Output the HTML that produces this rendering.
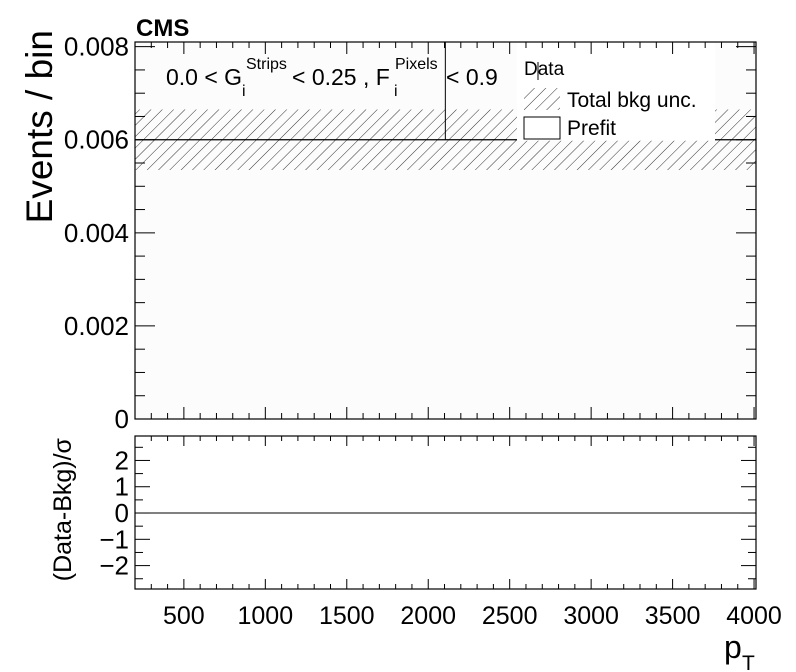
<!DOCTYPE html>
<html><head><meta charset="utf-8"><style>
body{margin:0;background:#fff;}
svg{display:block;font-family:"Liberation Sans",Arial,sans-serif;}
</style></head><body>
<svg id="c" width="796" height="672"></svg>
<script>
const xTicks=[500,1000,1500,2000,2500,3000,3500,4000];
const mainYTicks=[0,0.002,0.004,0.006,0.008];
const mainYLabels=["0","0.002","0.004","0.006","0.008"];
const ratioYTicks=[-2,-1,0,1,2];
const ratioYLabels=["\u22122","\u22121","0","1","2"];
const bkgValue=[0.006];
const bkgUncUp=[0.00665];
const bkgUncDown=[0.00535];
const dataX=[2105];
const dataY=[0.006];
const ratioValue=[0];

const NS="http://www.w3.org/2000/svg";
const svg=document.getElementById('c');
const X0=135,X1=756,xmin=200,xmax=4012;
const sx=v=>X0+(v-xmin)/(xmax-xmin)*(X1-X0);
const MT=42,MB=419,ymin=0,ymax=0.0081;
const sy=v=>MB-(v-ymin)/(ymax-ymin)*(MB-MT);
const RT=436,RB=589,rmin=-2.89,rmax=2.93;
const sr=v=>RB-(v-rmin)/(rmax-rmin)*(RB-RT);
function el(t,a,p){const e=document.createElementNS(NS,t);for(const k in a)e.setAttribute(k,a[k]);(p||svg).appendChild(e);return e;}
function txt(s,a,p){const e=el('text',a,p);e.textContent=s;return e;}

const defs=el('defs',{});
const pat=el('pattern',{id:'hatch',width:8,height:8,patternUnits:'userSpaceOnUse',patternTransform:'rotate(45)'},defs);
el('line',{x1:0,y1:0,x2:0,y2:8,stroke:'#000','stroke-width':0.8},pat);

const mf=el('rect',{x:X0,y:MT,width:X1-X0,height:MB-MT,fill:'#fcfcfc',stroke:'none'});


const band=el('rect',{x:X0,y:sy(bkgUncUp[0]),width:X1-X0,height:sy(bkgUncDown[0])-sy(bkgUncUp[0]),fill:'url(#hatch)'});


const bl=el('line',{x1:X0,x2:X1,y1:sy(bkgValue[0]),y2:sy(bkgValue[0]),stroke:'#000','stroke-width':1.2});


const de=el('line',{x1:sx(dataX[0]),x2:sx(dataX[0]),y1:MT,y2:sy(dataY[0]),stroke:'#000','stroke-width':1});



const lg=el('g',{});


el('rect',{x:517,y:MT+1,width:198,height:sy(bkgValue[0])-MT,fill:'#fff'},lg);
txt('Data',{x:524,y:75,'font-size':19},lg);
el('line',{x1:538,x2:538,y1:62,y2:80,stroke:'#000'},lg);
el('rect',{x:524,y:88,width:36,height:22,fill:'url(#hatch)'},lg);
txt('Total bkg unc.',{x:567,y:107,'font-size':21},lg);
el('rect',{x:524,y:117,width:36,height:22,fill:'#fff',stroke:'#000','stroke-width':1},lg);
txt('Prefit',{x:567,y:135,'font-size':21},lg);

const lab=el('g',{});


txt('0.0 < G',{x:166,y:85,'font-size':23},lab);
txt('Strips',{x:246,y:69,'font-size':16},lab);
txt('i',{x:242,y:96,'font-size':16},lab);
txt('< 0.25 , F',{x:292,y:85,'font-size':23},lab);
txt('Pixels',{x:395,y:69,'font-size':16},lab);
txt('i',{x:394,y:96,'font-size':16},lab);
txt('< 0.9',{x:446,y:85,'font-size':23},lab);

el('rect',{x:X0,y:MT,width:X1-X0,height:MB-MT,fill:'none',stroke:'#000','stroke-width':1.2});
el('rect',{x:X0,y:RT,width:X1-X0,height:RB-RT,fill:'none',stroke:'#000','stroke-width':1.2});

for(let v=300;v<=4000;v+=100){
  const maj=v%500===0, L=maj?12:6;
  const x=sx(v);
  el('line',{x1:x,x2:x,y1:MB,y2:MB-L,stroke:'#000'});
  el('line',{x1:x,x2:x,y1:MT,y2:MT+L,stroke:'#000'});
  el('line',{x1:x,x2:x,y1:RB,y2:RB-(maj?10:5),stroke:'#000'});
  el('line',{x1:x,x2:x,y1:RT,y2:RT+(maj?10:5),stroke:'#000'});
}
xTicks.forEach(v=>{const t=txt(String(v),{x:sx(v),y:624,'font-size':25,'text-anchor':'middle'});

});
for(let v=0;v<=0.0081;v+=0.0005){
  const maj=Math.abs(v/0.002-Math.round(v/0.002))<1e-6, L=maj?20:10;
  const y=sy(v);
  el('line',{x1:X0,x2:X0+L,y1:y,y2:y,stroke:'#000'});
  el('line',{x1:X1,x2:X1-L,y1:y,y2:y,stroke:'#000'});
}
mainYTicks.forEach((v,i)=>{const t=txt(mainYLabels[i],{x:129,y:sy(v)+9,'font-size':26,'text-anchor':'end'});

});
for(let v=-2.5;v<=2.5;v+=0.5){
  const maj=Number.isInteger(v), L=maj?15:8, y=sr(v);
  el('line',{x1:X0,x2:X0+L,y1:y,y2:y,stroke:'#000'});
  el('line',{x1:X1,x2:X1-L,y1:y,y2:y,stroke:'#000'});
}
ratioYTicks.forEach((v,i)=>{const t=txt(ratioYLabels[i],{x:129,y:sr(v)+9,'font-size':26,'text-anchor':'end'});

});
const rl=el('line',{x1:X0,x2:X1,y1:sr(ratioValue[0]),y2:sr(ratioValue[0]),stroke:'#000','stroke-width':1});



const cms=txt('CMS',{x:136,y:36,'font-size':24,'font-weight':'bold'});


const yt=txt('Events / bin',{x:0,y:0,'font-size':37,'text-anchor':'end',transform:'translate(52,30) rotate(-90)'});


const rt=txt('(Data-Bkg)/\u03c3',{x:0,y:0,'font-size':25,'text-anchor':'end',transform:'translate(71,438) rotate(-90)'});


const xt=el('g',{});


txt('p',{x:724,y:658,'font-size':32},xt);
txt('T',{x:742,y:670,'font-size':21},xt);
</script>
</body></html>
